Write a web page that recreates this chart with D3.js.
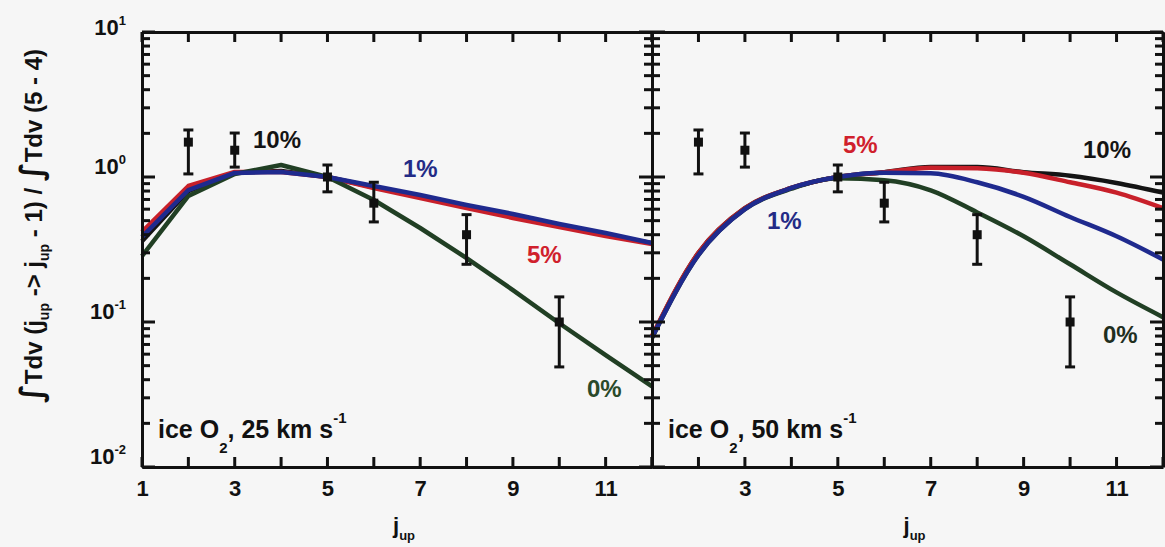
<!DOCTYPE html>
<html>
<head>
<meta charset="utf-8">
<script src="https://cdn.jsdelivr.net/npm/d3@7"></script>
<style>
  html, body { margin: 0; padding: 0; background: #f6f6f6; }
  svg { display: block; }
  text { font-family: "Liberation Sans", Arial, Helvetica, sans-serif; font-weight: bold; }
</style>
</head>
<body>
<svg id="chart" width="1165" height="547"></svg>
<script>
// ---------------- data ----------------
const jUp = [1, 2, 3, 4, 5, 6, 7, 8, 9, 10, 11, 12];

// observed ratios (same in both panels)
const obsJ   = [2, 3, 5, 6, 8, 10];
const obsVal = [1.74, 1.53, 1.0, 0.66, 0.40, 0.10];
const obsHi  = [2.11, 2.01, 1.21, 0.92, 0.55, 0.149];
const obsLo  = [1.05, 1.17, 0.79, 0.49, 0.25, 0.049];

// panel 1: ice O2, 25 km s-1
const v25_0  = [0.285, 0.740, 1.049, 1.21, 1.0, 0.694, 0.445, 0.276, 0.166, 0.098, 0.059, 0.036];
const v25_1  = [0.386, 0.813, 1.066, 1.083, 1.0, 0.867, 0.751, 0.641, 0.556, 0.474, 0.411, 0.351];
const v25_5  = [0.418, 0.867, 1.083, 1.083, 1.0, 0.840, 0.717, 0.611, 0.522, 0.452, 0.392, 0.345];
const v25_10 = [0.360, 0.800, 1.070, 1.100, 1.0, 0.850, 0.730, 0.630, 0.540, 0.460, 0.400, 0.350];

// panel 2: ice O2, 50 km s-1
const v50_0  = [0.078, 0.290, 0.600, 0.830, 0.98, 0.950, 0.810, 0.570, 0.390, 0.250, 0.160, 0.108];
const v50_1  = [0.078, 0.290, 0.600, 0.840, 1.0, 1.070, 1.060, 0.920, 0.730, 0.530, 0.390, 0.270];
const v50_5  = [0.080, 0.300, 0.610, 0.840, 1.0, 1.080, 1.160, 1.150, 1.070, 0.920, 0.780, 0.610];
const v50_10 = [0.079, 0.300, 0.610, 0.840, 1.0, 1.080, 1.170, 1.170, 1.080, 1.020, 0.910, 0.780];

const xTickValues = jUp;
const yMajor = [0.01, 0.1, 1, 10];
const yMajorExp = ["-2", "-1", "0", "1"];

// ---------------- layout ----------------
const svg = d3.select("#chart");
const plotTop = 32, plotBottom = 467;
const panels = [
  { x0: 142, x1: 652, curve: d3.curveLinear, label: "25",
    series: [
      { v: v25_10, c: "#141414" }, { v: v25_5, c: "#c8202a" },
      { v: v25_0, c: "#213f24" }, { v: v25_1, c: "#1f2a8e" } ],
    notes: [
      { t: "10%", x: 253, y: 148, c: "#141414" },
      { t: "1%",  x: 403, y: 177, c: "#232b86" },
      { t: "5%",  x: 527, y: 263, c: "#d0202c" },
      { t: "0%",  x: 587, y: 397, c: "#2a4a2a" } ],
    labelFirst: true },
  { x0: 652, x1: 1163, curve: d3.curveMonotoneX, label: "50",
    series: [
      { v: v50_10, c: "#141414" }, { v: v50_5, c: "#c8202a" },
      { v: v50_0, c: "#213f24" }, { v: v50_1, c: "#1f2a8e" } ],
    notes: [
      { t: "5%",  x: 843, y: 153, c: "#d0202c" },
      { t: "10%", x: 1083, y: 158, c: "#141414" },
      { t: "1%",  x: 767, y: 229, c: "#232b86" },
      { t: "0%",  x: 1103, y: 343, c: "#1f2f1f" } ],
    labelFirst: false }
];

const y = d3.scaleLog().domain([0.01, 10]).range([plotBottom, plotTop]);

// all log tick values
const yTicks = [];
for (let e = -2; e < 1; e++) {
  for (let m = 1; m < 10; m++) yTicks.push(+(m * Math.pow(10, e)).toPrecision(3));
}
yTicks.push(10);
const isMajor = v => yMajor.some(m => Math.abs(m - v) < 1e-9);

panels.forEach((p, pi) => {
  const x = d3.scaleLinear().domain([1, 12]).range([p.x0, p.x1]);
  const g = svg.append("g");

  // curves
  p.series.forEach(s => {
    const line = d3.line().x((d, i) => x(jUp[i])).y(d => y(d)).curve(p.curve);
    g.append("path").datum(s.v)
      .attr("d", line)
      .attr("fill", "none")
      .attr("stroke", s.c)
      .attr("stroke-width", 4.5)
      .attr("stroke-linejoin", "round");
  });

  // observations
  const obs = obsJ.map((j, i) => ({ j, v: obsVal[i], hi: obsHi[i], lo: obsLo[i] }));
  const og = g.append("g").attr("stroke", "#111").attr("stroke-width", 3);
  og.selectAll("line.eb").data(obs).join("line")
    .attr("x1", d => x(d.j)).attr("x2", d => x(d.j))
    .attr("y1", d => y(d.hi)).attr("y2", d => y(d.lo));
  og.selectAll("line.cap1").data(obs).join("line")
    .attr("x1", d => x(d.j) - 5).attr("x2", d => x(d.j) + 5)
    .attr("y1", d => y(d.hi)).attr("y2", d => y(d.hi));
  og.selectAll("line.cap2").data(obs).join("line")
    .attr("x1", d => x(d.j) - 5).attr("x2", d => x(d.j) + 5)
    .attr("y1", d => y(d.lo)).attr("y2", d => y(d.lo));
  g.selectAll("rect.obs").data(obs).join("rect")
    .attr("x", d => x(d.j) - 4.5).attr("y", d => y(d.v) - 4.5)
    .attr("width", 9).attr("height", 9).attr("fill", "#111");

  // inward ticks (drawn from the scales)
  const tg = g.append("g").attr("stroke", "#111").attr("stroke-width", 3);
  tg.selectAll("line.xb").data(xTickValues).join("line")
    .attr("x1", d => x(d)).attr("x2", d => x(d))
    .attr("y1", plotBottom).attr("y2", plotBottom - 10);
  tg.selectAll("line.xt").data(xTickValues).join("line")
    .attr("x1", d => x(d)).attr("x2", d => x(d))
    .attr("y1", plotTop).attr("y2", plotTop + 10);
  tg.selectAll("line.yl").data(yTicks).join("line")
    .attr("x1", p.x0).attr("x2", d => p.x0 + (isMajor(d) ? 13 : 8))
    .attr("y1", d => y(d)).attr("y2", d => y(d));
  tg.selectAll("line.yr").data(yTicks).join("line")
    .attr("x1", p.x1).attr("x2", d => p.x1 - (isMajor(d) ? 13 : 8))
    .attr("y1", d => y(d)).attr("y2", d => y(d));

  // axes (frame + labels)
  const fmtX = d => (d % 2 === 1 && (p.labelFirst || d !== 1)) ? d : "";
  const axB = g.append("g").attr("transform", `translate(0,${plotBottom})`)
    .call(d3.axisBottom(x).tickValues(xTickValues).tickSizeInner(0).tickSizeOuter(0).tickPadding(13).tickFormat(fmtX));
  const axT = g.append("g").attr("transform", `translate(0,${plotTop})`)
    .call(d3.axisTop(x).tickValues([]).tickSizeOuter(0));
  const axL = g.append("g").attr("transform", `translate(${p.x0},0)`)
    .call(d3.axisLeft(y).tickValues([]).tickSizeOuter(0));
  const axR = g.append("g").attr("transform", `translate(${p.x1},0)`)
    .call(d3.axisRight(y).tickValues([]).tickSizeOuter(0));

  [axB, axT, axL, axR].forEach(a => {
    a.select(".domain").attr("stroke", "#111").attr("stroke-width", 3);
    a.selectAll(".tick line").attr("stroke", "none");
    a.selectAll(".tick text").attr("fill", "#111").attr("font-size", 22)
      .attr("font-family", "Liberation Sans, Arial, sans-serif").attr("font-weight", "bold");
  });

  // notes
  p.notes.forEach(n => {
    g.append("text").attr("x", n.x).attr("y", n.y).attr("fill", n.c)
      .attr("font-size", 24).text(n.t);
  });

  // panel label: ice O2, xx km s-1
  const lt = g.append("text").attr("x", p.x0 + 16).attr("y", 438)
    .attr("font-size", 25).attr("fill", "#111");
  lt.append("tspan").text("ice O");
  lt.append("tspan").attr("dy", 15).attr("font-size", 15).text("2");
  lt.append("tspan").attr("dy", -15).text(", " + p.label + " km s");
  lt.append("tspan").attr("dy", -15).attr("font-size", 15).text("-1");

  // x-axis title j_up
  const xt = g.append("text").attr("x", (p.x0 + p.x1) / 2 - 4).attr("y", 533)
    .attr("font-size", 22).attr("fill", "#111");
  xt.append("tspan").text("j");
  xt.append("tspan").attr("dy", 7).attr("font-size", 13).text("up");
});

// y tick labels
yMajor.forEach((v, i) => {
  const t = svg.append("text").attr("x", 126).attr("y", y(v) + (i === 3 ? 3 : -3))
    .attr("text-anchor", "end").attr("font-size", 22).attr("fill", "#111");
  t.append("tspan").text("10");
  t.append("tspan").attr("dy", -10).attr("font-size", 13).text(yMajorExp[i]);
});

// y-axis title
const yt = svg.append("text")
  .attr("transform", "translate(42,226) rotate(-90)")
  .attr("text-anchor", "middle").attr("font-size", 24).attr("fill", "#111");
yt.append("tspan").attr("font-family", "DejaVu Sans").attr("font-size", 31).text("\u222B");
yt.append("tspan").text("Tdv (j");
yt.append("tspan").attr("dy", 7).attr("font-size", 14).text("up");
yt.append("tspan").attr("dy", -7).text(" -> j");
yt.append("tspan").attr("dy", 7).attr("font-size", 14).text("up");
yt.append("tspan").attr("dy", -7).text(" - 1) / ");
yt.append("tspan").attr("font-family", "DejaVu Sans").attr("font-size", 31).text("\u222B");
yt.append("tspan").text("Tdv (5 - 4)");
</script>
</body>
</html>
